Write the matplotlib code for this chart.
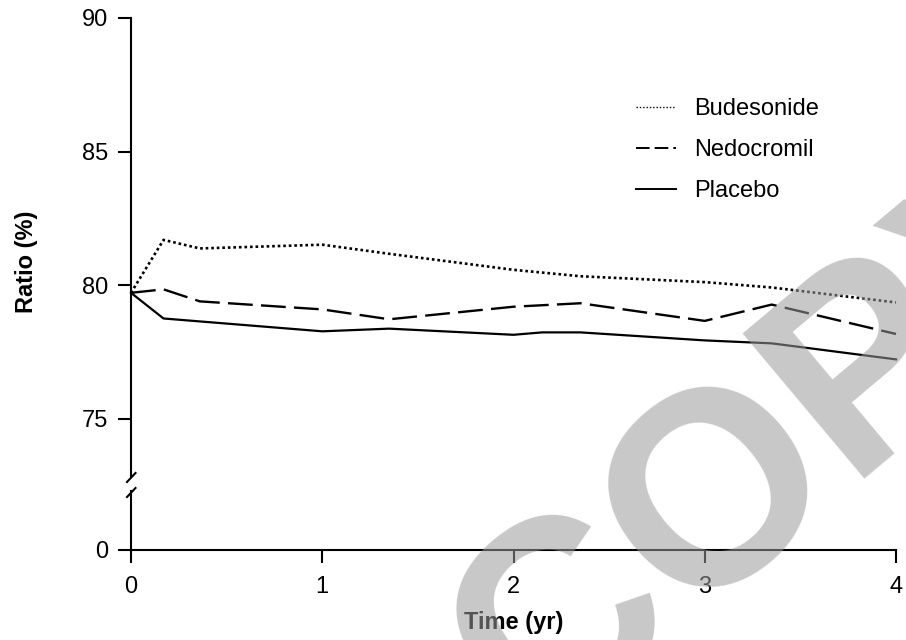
import matplotlib
matplotlib.use("Agg")
import matplotlib.pyplot as plt
from matplotlib.lines import Line2D

plt.rcParams['font.family'] = ['Liberation Sans', 'DejaVu Sans']

# ---- data ----
bud_x = [0, 0.17, 0.36, 1.0, 1.35, 2.0, 2.35, 3.0, 3.35, 4.0]
bud_y = [79.72, 81.7, 81.38, 81.52, 81.18, 80.58, 80.34, 80.12, 79.92, 79.36]

ned_x = [0, 0.17, 0.36, 1.0, 1.35, 2.0, 2.35, 3.0, 3.35, 4.0]
ned_y = [79.72, 79.85, 79.4, 79.1, 78.73, 79.2, 79.33, 78.67, 79.28, 78.18]

pla_x = [0, 0.17, 1.0, 1.35, 2.0, 2.15, 2.35, 3.0, 3.35, 4.0]
pla_y = [79.72, 78.76, 78.28, 78.38, 78.15, 78.24, 78.24, 77.94, 77.83, 77.23]

series_names = ["Budesonide", "Nedocromil", "Placebo"]
upper_yticks = [75, 80, 85, 90]
lower_yticks = [0]
xticks = [0, 1, 2, 3, 4]

W, H = 906, 640
fig = plt.figure(figsize=(W / 100, H / 100), dpi=100)

L = 131 / W
R = 896 / W
top_px, upper_bot_px = 18, 476
lower_top_px, lower_bot_px = 491, 550

ax = fig.add_axes([L, 1 - upper_bot_px / H, R - L, (upper_bot_px - top_px) / H])
axb = fig.add_axes([L, 1 - lower_bot_px / H, R - L, (lower_bot_px - lower_top_px) / H])

FS = 17
TL = 9.4
LW = 1.5

# lines
ax.plot(bud_x, bud_y, color='black', lw=1.9, ls=(0, (1, 1.1)), clip_on=False)
ax.plot(ned_x, ned_y, color='black', lw=1.7, ls=(0, (10.5, 3.5)), clip_on=False)
ax.plot(pla_x, pla_y, color='black', lw=1.6, ls='-', clip_on=False)

ax.set_xlim(0, 4)
ax.set_ylim(75 - (upper_bot_px - 419) / ((419 - top_px) / 15), 90)
ax.set_yticks(upper_yticks)
ax.set_xticks([])
for s in ['top', 'right', 'bottom']:
    ax.spines[s].set_visible(False)
ax.spines['left'].set_linewidth(LW)
ax.tick_params(axis='y', length=TL, width=LW, pad=7, labelsize=FS)

axb.set_xlim(0, 4)
axb.set_ylim(0, 1)
axb.set_yticks(lower_yticks)
axb.set_xticks(xticks)
for s in ['top', 'right']:
    axb.spines[s].set_visible(False)
axb.spines['left'].set_linewidth(LW)
axb.spines['bottom'].set_linewidth(LW)
axb.tick_params(axis='y', length=TL, width=LW, pad=7, labelsize=FS)
axb.tick_params(axis='x', length=TL, width=LW, pad=9, labelsize=FS)
axb.patch.set_alpha(0)
ax.patch.set_alpha(0)

# axis break marks
for cy in (477.5, 492.5):
    fig.add_artist(Line2D([127 / W, 135.5 / W], [1 - (cy + 4.5) / H, 1 - (cy - 4.5) / H],
                          color='black', lw=LW, transform=fig.transFigure))

# axis labels
fig.text(27 / W, 1 - 262 / H, "Ratio (%)", rotation=90, ha='center', va='center',
         fontsize=FS, fontweight='bold')
fig.text((131 + 896) / 2 / W, 1 - 623 / H, "Time (yr)", ha='center', va='center',
         fontsize=FS, fontweight='bold')

# legend
handles = [
    Line2D([], [], color='black', lw=1.0, ls=(0, (1, 1.4))),
    Line2D([], [], color='black', lw=1.4, ls=(0, (7, 2.6))),
    Line2D([], [], color='black', lw=1.4, ls='-'),
]
fig.legend(handles, series_names, loc='upper left', bbox_to_anchor=(636 / W, 1 - 98 / H),
           frameon=False, fontsize=FS, handlelength=1.7, handletextpad=0.75,
           labelspacing=0.8, borderpad=0, borderaxespad=0)

# watermark
fig.text(786 / W, 1 - 443 / H, "COPY", rotation=40, rotation_mode='anchor',
         ha='center', va='center', fontsize=197, fontweight='bold',
         color=(155 / 255,) * 3, alpha=0.55, zorder=20)

fig.savefig("out.png", dpi=100)
